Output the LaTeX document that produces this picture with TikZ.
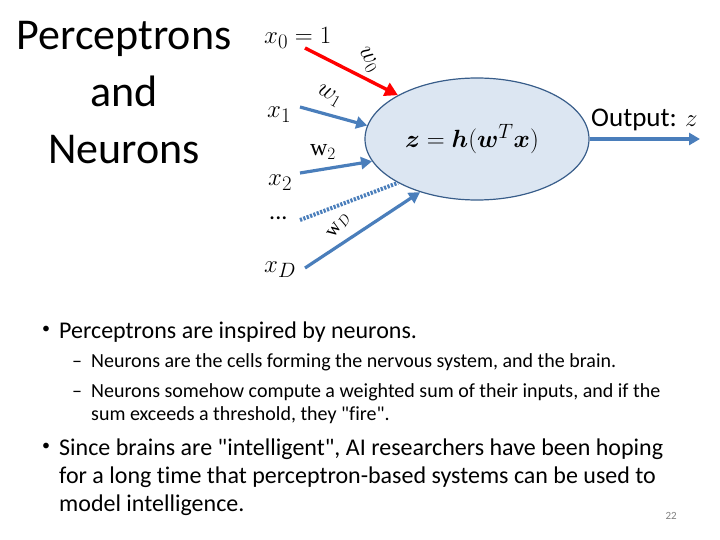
\documentclass[tikz,border=0pt]{standalone}
\usepackage{amsmath}
\usepackage{fontspec}
\setmainfont{Carlito}[Ligatures={TeX,NoCommon}]
\newfontfamily\lserif{Liberation Serif}
\usetikzlibrary{arrows.meta,shapes.geometric}
\definecolor{oblue}{HTML}{4A7EBB}
\definecolor{ofill}{HTML}{DCE6F2}
\definecolor{oedge}{HTML}{385D8A}
\begin{document}
\begin{tikzpicture}[x=1pt,y=-1pt,
  inarrow/.style={draw=oblue,line width=3.2pt,-{Triangle[length=11pt,width=12pt]}},
  wlab/.style={inner sep=0pt,font=\fontsize{24}{24}\selectfont},
  xlab/.style={inner sep=0pt,anchor=base west,font=\fontsize{30}{30}\selectfont},
  btext/.style={inner sep=0pt,anchor=base west,font=\fontsize{24}{24}\selectfont},
  bdot/.style={inner sep=0pt,font=\fontsize{16}{16}\selectfont},
  stext/.style={inner sep=0pt,anchor=base west,font=\fontsize{20}{20}\selectfont},
  cell/.style={shape=ellipse,draw=oedge,line width=1.2pt,fill=ofill,minimum width=224pt,minimum height=122pt,inner sep=0pt}]
\useasboundingbox (0,0) rectangle (720,540);
% title
\node[inner sep=0pt,align=center,anchor=north,font=\fontsize{44}{57}\selectfont] (title) at (124,21) {Perceptrons\\and\\Neurons};
% inputs
\node[xlab] (x0) at (264,44) {$x_0=1$};
\node[xlab] (x1) at (267,118) {$x_1$};
\node[xlab] (x2) at (268,186) {$x_2$};
\node[xlab,font=\fontsize{24}{24}\selectfont] (xd) at (269,220) {...};
\node[xlab] (xD) at (264,272) {$x_D$};
% neuron
\node[cell] (n) at (477,139) {};
\node[inner sep=0pt,font=\fontsize{28}{28}\selectfont] (nt) at (472,139) {$\boldsymbol{z}=\boldsymbol{h}(\boldsymbol{w}^{T}\boldsymbol{x})$};
\coordinate (c0s) at (305,48);
\coordinate (c1s) at (300,107);
\coordinate (c2s) at (300,173);
\coordinate (cds) at (300,220);
\coordinate (cDs) at (305,268);
\coordinate (oe) at (700,139);
\draw[draw=red,line width=3.4pt,-{Triangle[length=13pt,width=14pt]}] (c0s) -- (n.151);
\draw[inarrow] (c1s) -- (n.173);
\draw[inarrow] (c2s) -- (n.192);
\draw[draw=oblue,line width=4pt,dash pattern=on 2.2pt off 1.4pt] (cds) -- (n.209);
\draw[inarrow] (cDs) -- (n.223);
\draw[inarrow] (n.east) -- (oe);
% weight labels
\node[wlab,rotate=-60] (w0) at (368,60) {$w_0$};
\node[wlab,rotate=-30] (w1) at (329,96) {$w_1$};
\node[wlab] (w2) at (323,152) {{\lserif w}$_2$};
\node[wlab,rotate=55,font=\fontsize{20}{20}\selectfont] (wD) at (339,226) {{\lserif w}$_D$};
\node[inner sep=0pt,anchor=base west,font=\fontsize{27}{27}\selectfont] (out) at (591,127) {Output: $z$};
% bullets
\node[bdot] (b1) at (46,330) {\textbullet};
\node[btext] (t1) at (59,338) {Perceptrons are inspired by neurons.};
\node[stext] (d1) at (72,367) {--};
\node[stext] (s1) at (91,367) {Neurons are the cells forming the nervous system, and the brain.};
\node[stext] (d2) at (72,397) {--};
\node[stext] (s2) at (91,397) {Neurons somehow compute a weighted sum of their inputs, and if the};
\node[stext] (s3) at (91,420) {sum exceeds a threshold, they \textquotedbl fire\textquotedbl.};
\node[bdot] (b2) at (46,447) {\textbullet};
\node[btext] (t2) at (59,455) {Since brains are \textquotedbl intelligent\textquotedbl, AI researchers have been hoping};
\node[btext] (t3) at (59,483) {for a long time that perceptron-based systems can be used to};
\node[btext] (t4) at (59,511) {model intelligence.};
\node[inner sep=0pt,anchor=base east,font=\fontsize{11}{11}\selectfont,text=gray] (pg) at (677,519) {22};
\end{tikzpicture}
\end{document}
